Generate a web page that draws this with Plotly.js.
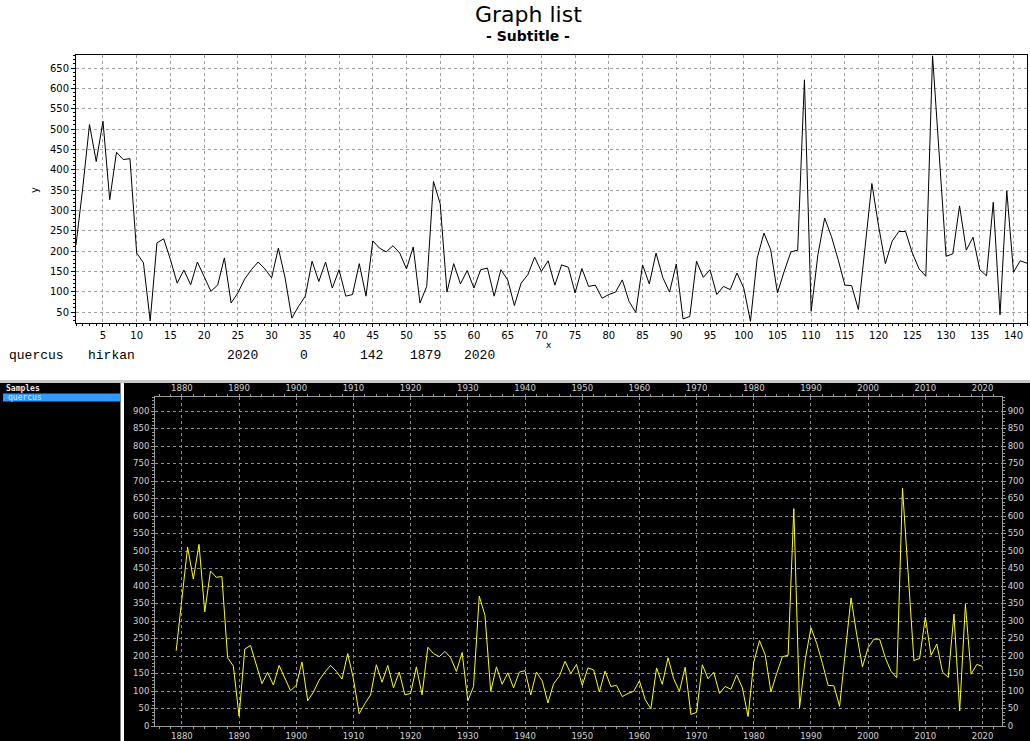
<!DOCTYPE html>
<html>
<head>
<meta charset="utf-8">
<script src="https://cdn.plot.ly/plotly-3.0.1.min.js"></script>
<style>html,body{margin:0;padding:0;background:#fff;}#chart{width:1030px;height:741px;}</style>
</head>
<body>
<div id="chart"></div>
<script>
// ---- data ----
const sampleName = "quercus";
const siteName = "hirkan";
const startYear = 1879;
const endYear = 2020;
const infoTokens = ["quercus", "hirkan", "2020", "0", "142", "1879", "2020"];
const ringValues = [
  215, 355, 511, 420, 519, 326, 443, 425, 427, 195,
  171, 28, 220, 230, 179, 121, 153, 117, 173, 138,
  101, 116, 183, 72, 97, 131, 154, 173, 156, 134,
  207, 134, 35, 64, 89, 175, 125, 173, 109, 154,
  89, 93, 169, 89, 225, 207, 198, 213, 195, 156,
  210, 72, 113, 371, 316, 99, 169, 119, 152, 109,
  154, 158, 89, 154, 129, 66, 121, 142, 185, 150,
  176, 116, 166, 160, 97, 157, 113, 116, 84, 93,
  99, 129, 76, 49, 166, 119, 195, 135, 99, 168,
  33, 39, 175, 135, 154, 93, 113, 105, 146, 109,
  27, 183, 244, 203, 97, 150, 198, 202, 621, 52,
  191, 281, 236, 179, 116, 115, 56, 211, 366, 261,
  169, 224, 248, 248, 195, 156, 138, 680, 430, 187,
  193, 311, 202, 234, 154, 139, 320, 43, 348, 148,
  176, 170
];
const indexX = ringValues.map((v, i) => i + 1);
const yearX = ringValues.map((v, i) => startYear + i);

// ---- layout helpers ----
const W = 1030, H = 741;
const px = x => x / W;
const py = y => 1 - y / H;

const topFont = {family: "DejaVu Sans", size: 10, color: "#000"};
const botFont = {family: "DejaVu Sans", size: 8.5, color: "#d0d0d0"};

const traces = [
  {x: indexX, y: ringValues, type: "scatter", mode: "lines", xaxis: "x", yaxis: "y",
   line: {color: "#000000", width: 1}, hoverinfo: "x+y", showlegend: false},
  {x: yearX, y: ringValues, type: "scatter", mode: "lines", xaxis: "x2", yaxis: "y2",
   line: {color: "#ffff00", width: 1}, hoverinfo: "x+y", showlegend: false},
  {x: yearX, y: ringValues, type: "scatter", mode: "lines", xaxis: "x3", yaxis: "y2",
   line: {color: "rgba(0,0,0,0)", width: 0}, hoverinfo: "skip", showlegend: false},
  {x: yearX, y: ringValues, type: "scatter", mode: "lines", xaxis: "x2", yaxis: "y3",
   line: {color: "rgba(0,0,0,0)", width: 0}, hoverinfo: "skip", showlegend: false}
];

const annotations = [
  {text: "Graph list", x: px(528), y: py(15), xref: "paper", yref: "paper", showarrow: false,
   xanchor: "center", yanchor: "middle", font: {family: "DejaVu Sans", size: 22, color: "#000"}},
  {text: "- Subtitle -", x: px(528), y: py(36), xref: "paper", yref: "paper", showarrow: false,
   xanchor: "center", yanchor: "middle", font: {family: "DejaVu Sans", size: 14, color: "#000", weight: 600}},
  {text: "y", x: px(35), y: py(190), xref: "paper", yref: "paper", showarrow: false, textangle: -90,
   xanchor: "center", yanchor: "middle", font: {family: "DejaVu Sans", size: 10, color: "#000"}},
  {text: "x", x: px(549), y: py(345), xref: "paper", yref: "paper", showarrow: false,
   xanchor: "center", yanchor: "middle", font: {family: "DejaVu Sans", size: 9, color: "#000"}},
  {text: "<b>Samples</b>", x: px(4), y: py(388.5), xref: "paper", yref: "paper", showarrow: false,
   xanchor: "left", yanchor: "middle", font: {family: "DejaVu Sans Mono", size: 8, color: "#e8e8e8"}},
  {text: sampleName, x: px(6), y: py(397.5), xref: "paper", yref: "paper", showarrow: false,
   xanchor: "left", yanchor: "middle", font: {family: "DejaVu Sans Mono", size: 8, color: "#cfe8ff"}}
];
const infoX = [7, 86, 225, 298, 358, 408, 462];
infoTokens.forEach((t, i) => {
  annotations.push({text: t, x: px(infoX[i]), y: py(355), xref: "paper", yref: "paper", showarrow: false,
    xanchor: "left", yanchor: "middle", font: {family: "Liberation Mono", size: 13, color: "#000"}});
});

const shapes = [
  {type: "rect", xref: "paper", yref: "paper", x0: 0, x1: px(120.5), y0: 0, y1: py(383),
   fillcolor: "#000", line: {width: 0}, layer: "below"},
  {type: "rect", xref: "paper", yref: "paper", x0: px(124), x1: 1, y0: 0, y1: py(383),
   fillcolor: "#000", line: {width: 0}, layer: "below"},
  {type: "rect", xref: "paper", yref: "paper", x0: 0, x1: 1, y0: py(383), y1: py(380),
   fillcolor: "#c8c8c8", line: {width: 0}, layer: "below"},
  {type: "rect", xref: "paper", yref: "paper", x0: px(3), x1: px(120.5), y0: py(401.5), y1: py(393.5),
   fillcolor: "#3399ff", line: {width: 0}, layer: "below"}
];

const layout = {
  width: W, height: H,
  margin: {l: 0, r: 0, t: 0, b: 0, pad: 0},
  paper_bgcolor: "#ffffff",
  plot_bgcolor: "rgba(0,0,0,0)",
  showlegend: false,
  xaxis: {domain: [px(76), px(1027)], anchor: "y", range: [1, 142], tick0: 0, dtick: 5,
    showgrid: true, gridcolor: "#a0a0a0", griddash: "3px,3px", gridwidth: 1,
    showline: true, linecolor: "#000", linewidth: 1, mirror: true,
    ticks: "outside", ticklen: 3, tickcolor: "#000", tickfont: topFont, zeroline: false,
    minor: {dtick: 1, ticks: "outside", ticklen: 2, tickcolor: "#000", showgrid: false},
    automargin: false},
  yaxis: {domain: [py(323), py(55)], anchor: "x", range: [23, 682], tick0: 0, dtick: 50,
    showgrid: true, gridcolor: "#a0a0a0", griddash: "3px,3px", gridwidth: 1,
    showline: true, linecolor: "#000", linewidth: 1, mirror: true,
    ticks: "outside", ticklen: 4, tickcolor: "#000", tickfont: topFont, zeroline: false,
    minor: {dtick: 10, ticks: "outside", ticklen: 2, tickcolor: "#000", showgrid: false},
    automargin: false},
  xaxis2: {domain: [px(155), px(1002)], anchor: "y2", range: [1875.3, 2023.4], tick0: 1880, dtick: 10,
    showgrid: true, gridcolor: "#8a8a8a", griddash: "3px,3px", gridwidth: 1,
    showline: true, linecolor: "#9a9a9a", linewidth: 1, mirror: true,
    ticks: "outside", ticklen: 2, tickcolor: "#9a9a9a", tickfont: botFont, zeroline: false,
    minor: {dtick: 2, ticks: "outside", ticklen: 2, tickcolor: "#9a9a9a", showgrid: false},
    automargin: false},
  xaxis3: {overlaying: "x2", anchor: "y2", side: "top", range: [1875.3, 2023.4], tick0: 1880, dtick: 10,
    showgrid: false, showline: false, ticks: "outside", ticklen: 2, tickcolor: "#9a9a9a",
    tickfont: botFont, zeroline: false,
    minor: {dtick: 2, ticks: "outside", ticklen: 2, tickcolor: "#9a9a9a", showgrid: false},
    automargin: false},
  yaxis2: {domain: [py(726), py(397)], anchor: "x2", range: [0, 940], tick0: 0, dtick: 50,
    showgrid: true, gridcolor: "#8a8a8a", griddash: "3px,3px", gridwidth: 1,
    showline: true, linecolor: "#9a9a9a", linewidth: 1, mirror: true,
    ticks: "outside", ticklen: 3, tickcolor: "#9a9a9a", tickfont: botFont, zeroline: false,
    minor: {dtick: 10, ticks: "outside", ticklen: 2, tickcolor: "#9a9a9a", showgrid: false},
    automargin: false},
  yaxis3: {overlaying: "y2", anchor: "x2", side: "right", range: [0, 940], tick0: 0, dtick: 50,
    showgrid: false, showline: false, ticks: "outside", ticklen: 3, tickcolor: "#9a9a9a",
    tickfont: botFont, zeroline: false,
    minor: {dtick: 10, ticks: "outside", ticklen: 2, tickcolor: "#9a9a9a", showgrid: false},
    automargin: false},
  annotations: annotations,
  shapes: shapes
};

Plotly.newPlot("chart", traces, layout, {displayModeBar: false});
</script>
</body>
</html>
